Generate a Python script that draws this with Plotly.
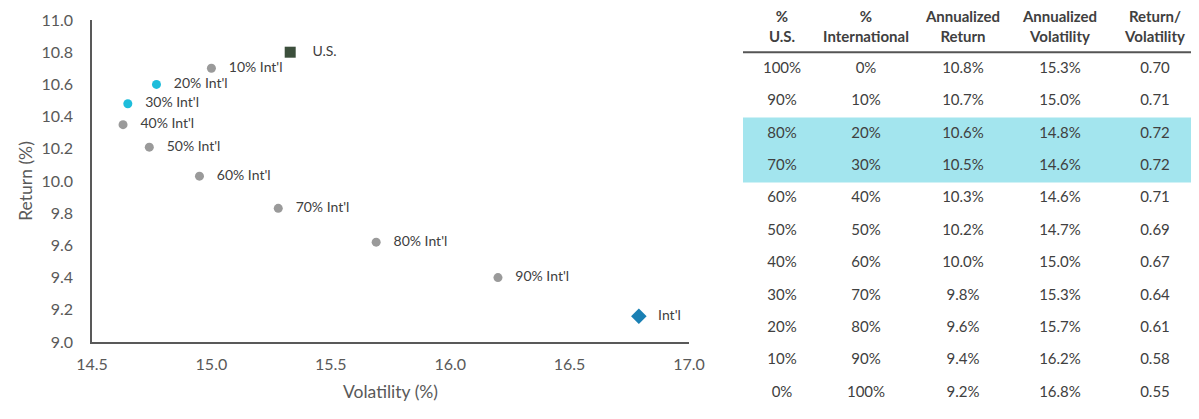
import plotly.graph_objects as go

# portfolio points (volatility %, return %)
mix_labels = ["10% Int'l", "40% Int'l", "50% Int'l", "60% Int'l", "70% Int'l", "80% Int'l", "90% Int'l"]
mix_vol = [15.00, 14.63, 14.74, 14.95, 15.28, 15.69, 16.20]
mix_ret = [10.70, 10.35, 10.21, 10.03, 9.83, 9.62, 9.40]

best_labels = ["20% Int'l", "30% Int'l"]
best_vol = [14.77, 14.65]
best_ret = [10.60, 10.48]

us_vol, us_ret = [15.33], [10.80]
intl_vol, intl_ret = [16.79], [9.16]

# table
pct_us = ["100%", "90%", "80%", "70%", "60%", "50%", "40%", "30%", "20%", "10%", "0%"]
pct_intl = ["0%", "10%", "20%", "30%", "40%", "50%", "60%", "70%", "80%", "90%", "100%"]
ann_return = ["10.8%", "10.7%", "10.6%", "10.5%", "10.3%", "10.2%", "10.0%", "9.8%", "9.6%", "9.4%", "9.2%"]
ann_vol = ["15.3%", "15.0%", "14.8%", "14.6%", "14.6%", "14.7%", "15.0%", "15.3%", "15.7%", "16.2%", "16.8%"]
ret_per_vol = ["0.70", "0.71", "0.72", "0.72", "0.71", "0.69", "0.67", "0.64", "0.61", "0.58", "0.55"]
header_top = ["%", "%", "Annualized", "Annualized", "Return/"]
header_bottom = ["U.S.", "International", "Return", "Volatility", "Volatility"]
highlight_rows = [2, 3]

FONT = "Lato"
TXT = "#404040"
AX = "#595959"

# the page body has an 8px margin, so the figure is a bit smaller than the window
OFF = 8
W, H = 1199 - OFF, 419 - OFF


def fx(px):
    return (px - OFF) / W


def fy(px):
    return 1 - (px - OFF) / H


# table layout: column centres in px from the table's left edge, rows in row units
col_x = [39, 123, 220, 317, 412]
table_w = 456
row_top = -(69 - OFF) / 32.4          # window top, in row units
row_bottom = 10 + (419 - 393) / 32.4  # window bottom

fig = go.Figure()


def add_points(xs, ys, labels, marker, pad="   "):
    fig.add_trace(go.Scatter(
        x=xs, y=ys, mode="markers+text", text=[pad + t for t in labels],
        textposition="middle right", textfont=dict(family=FONT, size=14, color=TXT),
        marker=marker, cliponaxis=False, hoverinfo="skip"))


add_points(mix_vol, mix_ret, mix_labels, dict(size=9, color="#9a9a9a"))
add_points(best_vol, best_ret, best_labels, dict(size=9, color="#1ebddb"))
add_points(us_vol, us_ret, ["U.S."], dict(size=11, symbol="square", color="#3c4f3c"), pad="    ")
add_points(intl_vol, intl_ret, ["Int'l"], dict(size=12, symbol="diamond", color="#1a80b4"))

# table highlight band
fig.add_shape(type="rect", xref="x2 domain", yref="y2", x0=0, x1=1,
              y0=min(highlight_rows) - 0.5, y1=max(highlight_rows) + 0.5,
              fillcolor="#a3e5ee", line_width=0, layer="below")
# header rule
fig.add_shape(type="line", xref="x2 domain", yref="y2", x0=0, x1=1, y0=-0.52, y1=-0.52,
              line=dict(color="#555555", width=2))

rows = list(range(len(pct_us)))
columns = [pct_us, pct_intl, ann_return, ann_vol, ret_per_vol]
for j, col in enumerate(columns):
    fig.add_trace(go.Scatter(
        x=[col_x[j]] * len(col), y=rows, mode="text", text=col, textposition="middle center",
        textfont=dict(family=FONT, size=15, color=TXT), xaxis="x2", yaxis="y2",
        hoverinfo="skip", cliponaxis=False))
    fig.add_trace(go.Scatter(
        x=[col_x[j], col_x[j]], y=[-1.58, -0.96], mode="text",
        text=["<b>" + header_top[j] + "</b>", "<b>" + header_bottom[j] + "</b>"],
        textposition="middle center", textfont=dict(family=FONT, size=15, color=TXT),
        xaxis="x2", yaxis="y2", hoverinfo="skip", cliponaxis=False))

fig.update_layout(
    width=W, height=H, margin=dict(l=0, r=0, t=0, b=0),
    paper_bgcolor="white", plot_bgcolor="white", showlegend=False,
    font=dict(family=FONT, color=TXT),
    xaxis=dict(range=[14.5, 17.0], dtick=0.5, tickformat=".1f", domain=[fx(92), fx(689)],
               showgrid=False, zeroline=False, showline=True, linecolor=AX, linewidth=1.5,
               ticks="", ticklabelstandoff=7, automargin=False,
               tickfont=dict(family=FONT, size=16, color=AX),
               title=dict(text="Volatility (%)", font=dict(family=FONT, size=17.5, color=AX), standoff=14)),
    yaxis=dict(range=[9.0, 11.0], dtick=0.2, tickformat=".1f", domain=[fy(342), fy(20)],
               showgrid=False, zeroline=False, showline=True, linecolor=AX, linewidth=1.5,
               ticks="", ticklabelstandoff=14, automargin=False,
               tickfont=dict(family=FONT, size=16, color=AX),
               title=dict(text="Return (%)", font=dict(family=FONT, size=17.5, color=AX), standoff=4)),
    xaxis2=dict(domain=[fx(743), 1.0], range=[0, table_w], visible=False, fixedrange=True),
    yaxis2=dict(domain=[0, 1], range=[row_bottom, row_top], visible=False, fixedrange=True, anchor="x2"),
)

fig.write_html("out.html")
